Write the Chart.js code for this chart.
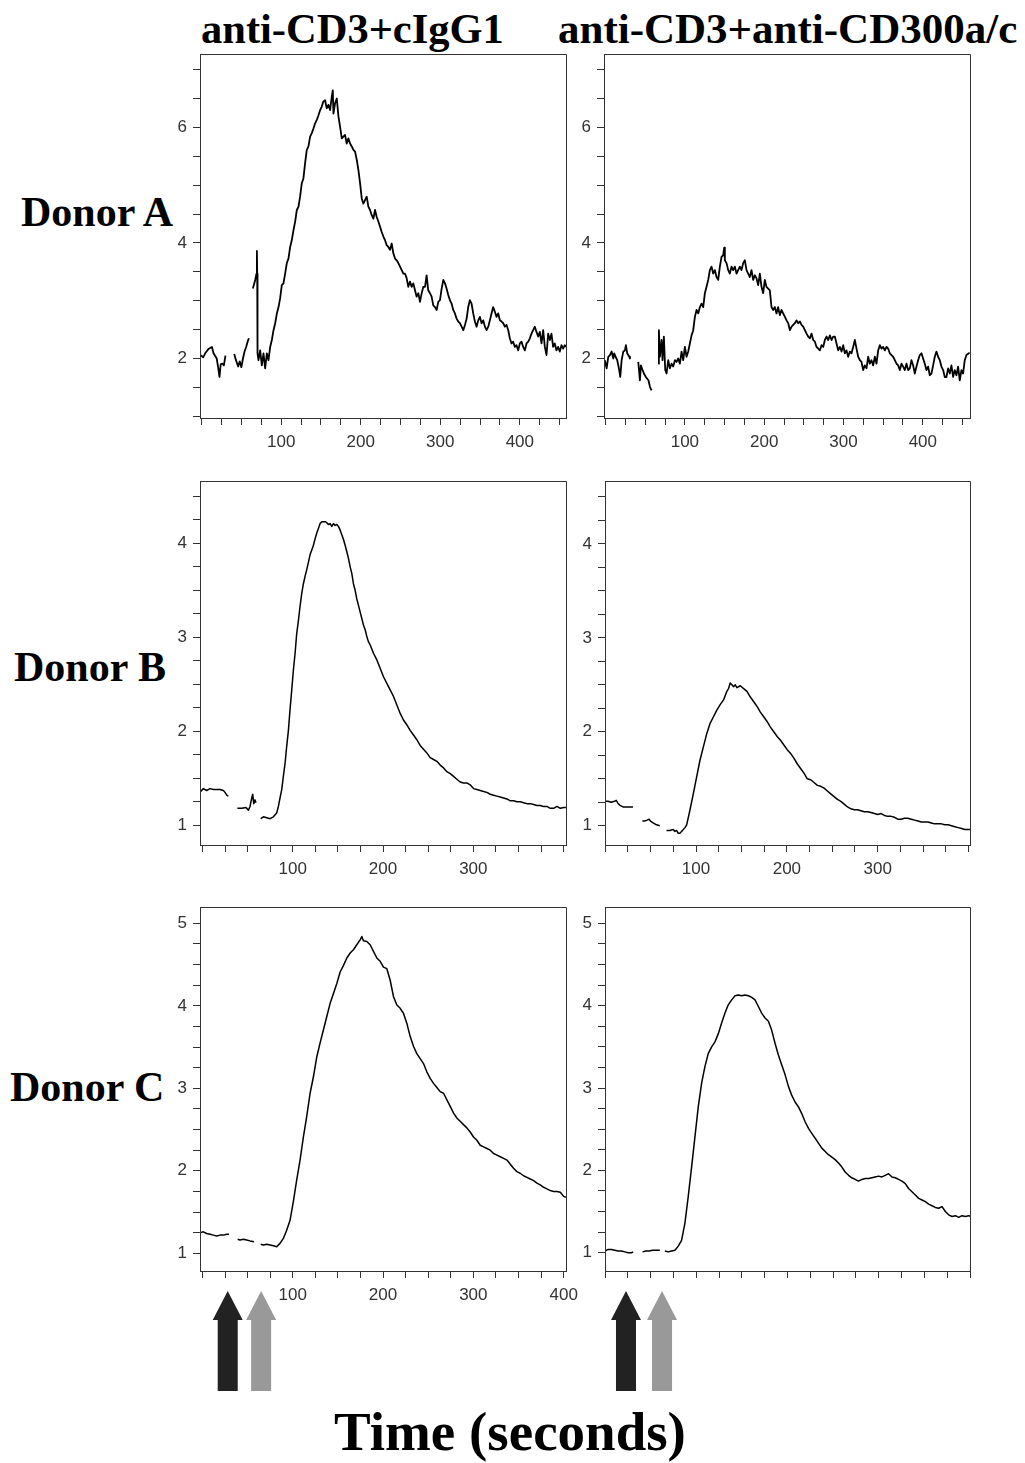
<!DOCTYPE html>
<html><head><meta charset="utf-8"><title>Calcium flux</title>
<script src="https://cdn.jsdelivr.net/npm/chart.js@4.4.1/dist/chart.umd.min.js"></script>
<style>
html,body{margin:0;padding:0;background:#fff;}
body{width:1025px;height:1463px;position:relative;overflow:hidden;}
canvas{position:absolute;}
.lbl{position:absolute;font-family:'Liberation Serif','Times New Roman',serif;font-weight:bold;color:#000;line-height:1;white-space:nowrap;}
</style></head>
<body>
<div class="lbl" style="left:201px;top:8px;font-size:42.5px">anti-CD3+cIgG1</div>
<div class="lbl" style="left:558px;top:7px;font-size:43px">anti-CD3+anti-CD300a/c</div>
<div class="lbl" style="left:21px;top:191px;font-size:42px">Donor A</div>
<div class="lbl" style="left:14px;top:646px;font-size:42px">Donor B</div>
<div class="lbl" style="left:10px;top:1066px;font-size:42px">Donor C</div>
<div class="lbl" style="left:310px;width:400px;text-align:center;top:1404px;font-size:55px">Time (seconds)</div>
<script>
// ---- tick labels ----
const xLabels4 = [100, 200, 300, 400];
const xLabels3 = [100, 200, 300];
const yLabelsA = [2, 4, 6];
const yLabelsB = [1, 2, 3, 4];
const yLabelsC = [1, 2, 3, 4, 5];
// ---- stimulus arrows (time, s) ----
const arrowTimesLeft = [28, 65];
const arrowTimesRight = [22.5, 62];

// ---- traces: [time (s), ratio]; null = gap in acquisition ----
const donorA_cIgG1 = [[-1,2.06],[2,2.02],[5,2.1],[9,2.17],[13,2.2],[15,2.09],[19,2.0],[21,1.83],[22.5,1.68],[24,1.9],[26,1.91],[28,1.88],[30,2.05],[35,null],
[41,2.08],[43,1.98],[46,1.86],[48,1.95],[50,1.85],[52,2.0],[54,2.12],[56,2.2],[58,2.3],[59.5,2.35],[62,null],
[64.4,3.21],[67.4,3.36],[69,3.47],[69.5,3.86],[69.9,3.47],[70.3,2.09],[71.5,1.97],[73.6,2.14],[75.7,1.88],[77.8,2.09],[79.9,1.83],[82,2.09],[84.1,1.97],[86.2,2.2],[88.3,2.32],[90.4,2.49],[92.5,2.61],[94.6,2.78],[96.7,2.89],[98.7,3.04],[100.8,3.27],[102.9,3.3],[105,3.47],[107.1,3.65],[109.2,3.73],[111.3,3.93],[113.4,4.05],[115.5,4.22],[117.6,4.37],[119.7,4.57],[121.8,4.63],[123.8,4.8],[125.9,5.03],[128,5.12],[130.1,5.38],[132.2,5.61],[134.3,5.67],[136.4,5.84],[138.5,5.9],[140.6,5.98],[142.7,6.07],[144.8,6.13],[146.9,6.21],[149,6.3],[151,6.36],[153.1,6.45],[155.2,6.47],[157.3,6.33],[159.4,6.39],[161.5,6.3],[163.6,6.53],[164.9,6.64],[165.7,6.24],[167.8,6.42],[169.9,6.5],[172,6.19],[174.1,6.01],[176.2,5.81],[178.2,5.84],[180.3,5.87],[182.4,5.72],[184.5,5.81],[186.6,5.72],[188.7,5.67],[190.8,5.61],[192.9,5.58],[195,5.44],[197.1,5.26],[199.2,5.03],[201.3,4.77],[203.3,4.68],[205.4,4.74],[207.5,4.8],[209.6,4.63],[211.7,4.57],[213.8,4.48],[215.9,4.42],[218,4.57],[220.1,4.45],[222.2,4.37],[224.3,4.28],[226.4,4.19],[228.5,4.11],[230.5,4.05],[232.6,3.96],[234.7,3.93],[236.8,3.88],[238.9,3.99],[241,3.82],[243.1,3.73],[245.2,3.7],[247.3,3.65],[249.4,3.59],[251.5,3.53],[253.6,3.47],[255.6,3.47],[257.7,3.39],[259.8,3.24],[261.9,3.33],[264,3.24],[266.1,3.3],[268.2,3.18],[270.3,3.07],[272.4,3.13],[274.5,2.98],[276.6,3.13],[278.7,3.24],[280.8,3.24],[282.8,3.44],[284.9,3.18],[287,3.13],[289.1,3.07],[291.2,2.92],[293.3,2.89],[295.4,2.84],[297.5,2.98],[299.6,3.01],[301.7,3.21],[303.8,3.36],[305.9,3.3],[307.9,3.21],[310,3.1],[312.1,3.01],[314.2,2.95],[316.3,2.84],[318.4,2.78],[320.5,2.69],[322.6,2.64],[324.7,2.61],[326.8,2.55],[328.9,2.49],[331,2.58],[333.1,2.69],[335.1,2.89],[337.2,3.01],[339.3,2.95],[341.4,2.78],[343.5,2.64],[345.6,2.55],[347.7,2.66],[349.8,2.72],[351.9,2.61],[354,2.66],[356.1,2.55],[358.2,2.49],[360.3,2.55],[362.3,2.66],[364.4,2.78],[366.5,2.89],[368.6,2.81],[370.7,2.72],[372.8,2.78],[374.9,2.66],[377,2.64],[379.1,2.61],[381.2,2.55],[383.3,2.58],[385.4,2.49],[387.4,2.35],[389.5,2.26],[391.6,2.29],[393.7,2.2],[395.8,2.23],[397.9,2.14],[400,2.26],[402.1,2.29],[404.2,2.2],[406.3,2.14],[408.4,2.26],[410.5,2.29],[412.6,2.35],[414.6,2.43],[416.7,2.49],[418.8,2.55],[420.9,2.46],[423,2.38],[425.1,2.46],[427.2,2.26],[429.3,2.49],[431.4,2.2],[433.5,2.06],[435.6,2.43],[437.7,2.32],[439.7,2.43],[441.8,2.2],[443.9,2.26],[446,2.14],[448.1,2.2],[450.2,2.12],[452.3,2.23],[454.4,2.17],[456.5,2.23],[458,2.2]];

const donorA_CD300 = [[-1,1.97],[1.3,1.83],[3.4,2.03],[5.5,2.06],[7.6,2.12],[9.7,2.0],[10.9,2.09],[12.6,2.03],[14.7,1.97],[16.8,1.83],[18.5,1.68],[20.2,1.97],[22.3,2.12],[24.4,2.14],[25.6,2.23],[27.3,2.09],[29.8,2.03],[30.7,2.0],[36,null],
[41.2,1.94],[43.3,1.62],[44.5,1.88],[46.6,1.8],[48.3,1.74],[50.8,1.68],[52.5,1.65],[54.2,1.62],[55.9,1.51],[58,1.45],[62,null],
[66.4,1.91],[67.2,2.49],[68.5,2.03],[70.6,2.32],[71.8,1.97],[73.5,2.38],[75.2,1.8],[76.9,1.74],[79,1.97],[81.1,1.83],[83.2,1.91],[85.3,1.86],[87.4,1.97],[89.5,1.94],[91.6,2.0],[93.7,1.91],[95.8,2.12],[97.9,1.97],[100,2.2],[102.1,2.03],[104.2,2.12],[106.3,2.26],[108.4,2.4],[110.5,2.49],[112.6,2.72],[114.7,2.84],[116.8,2.78],[118.9,2.89],[121,2.95],[123.1,2.89],[125.2,3.13],[127.3,3.24],[129.4,3.36],[131.5,3.53],[133.6,3.59],[135.7,3.47],[137.8,3.53],[139.9,3.41],[142,3.36],[144.1,3.59],[146.2,3.76],[148.3,3.79],[149.6,3.92],[150.4,3.7],[152.5,3.65],[154.6,3.53],[156.7,3.47],[158.8,3.59],[160.9,3.53],[163,3.59],[165.1,3.47],[167.2,3.53],[169.3,3.59],[171.4,3.53],[173.5,3.65],[175.6,3.7],[177.7,3.53],[179.8,3.47],[181.9,3.41],[184,3.53],[186.1,3.36],[188.2,3.44],[190.3,3.39],[192.4,3.27],[194.5,3.47],[196.6,3.24],[198.7,3.13],[200.8,3.36],[202.9,3.24],[205,3.21],[207.1,3.18],[209.2,2.89],[211.3,2.84],[213.4,2.89],[215.5,2.78],[217.6,2.89],[219.7,2.75],[221.8,2.84],[223.9,2.78],[226.1,2.72],[228.2,2.66],[230.3,2.61],[232.4,2.49],[234.5,2.55],[236.6,2.58],[238.7,2.61],[240.8,2.66],[242.9,2.61],[245,2.64],[247.1,2.58],[249.2,2.55],[251.3,2.49],[253.4,2.43],[255.5,2.38],[257.6,2.35],[259.7,2.43],[261.8,2.32],[263.9,2.29],[266,2.2],[268.1,2.17],[270.2,2.14],[272.3,2.23],[274.4,2.2],[276.5,2.32],[278.6,2.38],[280.7,2.32],[282.8,2.4],[284.9,2.32],[287,2.38],[289.1,2.38],[291.2,2.26],[293.3,2.14],[295.4,2.2],[297.5,2.12],[299.6,2.23],[301.7,2.09],[303.8,2.14],[305.9,2.03],[308,2.12],[310.1,2.09],[312.2,2.2],[314.3,2.32],[316.4,2.17],[318.5,2.03],[320.6,1.97],[322.7,1.94],[324.8,1.8],[326.9,1.88],[329,1.83],[331.1,2.03],[333.2,1.91],[335.3,1.97],[337.4,1.88],[339.5,2.03],[341.6,1.91],[343.7,2.14],[345.8,2.23],[347.9,2.17],[350,2.2],[352.1,2.14],[354.2,2.2],[356.3,2.17],[358.4,2.09],[360.5,2.06],[362.6,2.03],[364.7,1.97],[366.8,1.91],[368.9,1.88],[371,1.8],[373.1,1.91],[375.2,1.86],[377.3,1.8],[379.4,1.91],[381.5,1.8],[383.6,1.83],[385.7,1.97],[387.8,1.88],[389.9,1.74],[392,1.86],[394.1,1.97],[396.2,2.06],[398.3,2.09],[400.4,2.0],[402.5,1.91],[404.6,1.8],[406.7,1.86],[408.8,1.71],[410.9,1.74],[413,1.88],[415.1,2.03],[417.2,2.12],[419.3,2.03],[421.4,1.97],[423.5,1.86],[425.6,1.8],[427.7,1.68],[429.8,1.68],[431.9,1.83],[434,1.74],[436.1,1.88],[438.2,1.68],[440.3,1.8],[442.4,1.71],[444.5,1.86],[446.6,1.62],[448.7,1.8],[450.8,1.74],[452.9,1.97],[455,2.06],[459,2.1]];

const donorB_cIgG1 = [[-2,1.36],[1,1.39],[4.7,1.37],[8.4,1.39],[12.1,1.38],[15.8,1.38],[19.5,1.38],[23.2,1.37],[25,1.35],[26.9,1.32],[28.7,1.31],[34,null],
[38.7,1.18],[43.5,1.18],[48.3,1.19],[50.9,1.16],[52.7,1.2],[54.6,1.29],[55.7,1.33],[56.8,1.23],[58.2,1.27],[59.3,1.24],[62,null],
[64.5,1.07],[67.5,1.09],[71.2,1.08],[74.9,1.07],[78.6,1.09],[82.2,1.13],[84.1,1.2],[85.9,1.29],[87.8,1.38],[89.6,1.52],[91.5,1.66],[93.3,1.84],[95.2,2.01],[97,2.23],[98.9,2.44],[100.7,2.65],[102.6,2.83],[104.4,3.04],[106.3,3.18],[108.1,3.33],[110,3.47],[111.8,3.57],[113.7,3.65],[115.5,3.72],[117.4,3.8],[119.2,3.88],[121.1,3.93],[122.9,3.98],[124.8,4.05],[126.6,4.11],[128.5,4.16],[130.3,4.21],[132.2,4.23],[134,4.23],[135.9,4.23],[137.7,4.22],[139.5,4.2],[141.4,4.21],[143.2,4.18],[145.1,4.21],[146.9,4.19],[148.8,4.2],[150.6,4.18],[152.5,4.14],[154.3,4.09],[156.2,4.04],[158,3.98],[159.9,3.91],[161.7,3.84],[163.6,3.75],[165.4,3.68],[167.2,3.57],[169.1,3.5],[170.9,3.41],[172.8,3.34],[174.6,3.27],[176.5,3.2],[178.3,3.13],[180.2,3.08],[182,3.01],[183.9,2.95],[185.7,2.92],[189.4,2.83],[193.1,2.76],[196.8,2.67],[200.5,2.58],[204.2,2.51],[207.9,2.44],[211.6,2.37],[215.3,2.28],[219,2.19],[222.6,2.12],[226.3,2.07],[230,2.01],[233.7,1.96],[237.4,1.91],[241.1,1.85],[244.8,1.81],[248.5,1.77],[252.2,1.72],[255.9,1.7],[259.6,1.68],[263.3,1.64],[267,1.61],[270.7,1.57],[274.4,1.55],[278.1,1.52],[281.7,1.49],[285.4,1.46],[289.1,1.45],[292.8,1.45],[296.5,1.43],[300.2,1.39],[303.9,1.38],[307.6,1.37],[311.3,1.36],[315,1.35],[318.7,1.33],[322.4,1.32],[326.1,1.31],[329.8,1.3],[333.5,1.29],[337.2,1.28],[340.9,1.26],[344.5,1.26],[348.2,1.25],[351.9,1.25],[355.6,1.24],[359.3,1.23],[363,1.23],[366.7,1.22],[370.4,1.21],[374.1,1.21],[377.8,1.2],[381.5,1.2],[385.2,1.18],[388.9,1.18],[392.6,1.2],[396.3,1.18],[400,1.19],[402.5,1.19]];

const donorB_CD300 = [[-0.7,1.26],[3,1.26],[6.6,1.25],[10.3,1.26],[12.2,1.27],[14,1.24],[15.9,1.22],[19.6,1.2],[23.2,1.2],[26.9,1.2],[30.6,1.2],[35,null],
[41,1.05],[43.5,1.05],[46.1,1.06],[48.3,1.07],[49.8,1.05],[52.8,1.03],[56.5,1.01],[60.1,1.0],[63,null],
[67.5,0.95],[71.2,0.95],[74.9,0.96],[76.8,0.94],[78.6,0.95],[80.4,0.92],[82.3,0.92],[84.1,0.94],[86,0.96],[87.8,0.98],[89.7,1.01],[93.4,1.17],[97,1.34],[100.7,1.52],[104.4,1.7],[108.1,1.84],[111.8,1.98],[115.5,2.09],[119.2,2.16],[122.9,2.23],[126.6,2.29],[130.3,2.34],[133.9,2.43],[135.8,2.46],[137.6,2.52],[139.5,2.5],[141.3,2.48],[143.2,2.5],[145,2.47],[148.7,2.49],[152.4,2.46],[156.1,2.43],[159.8,2.37],[163.5,2.32],[167.2,2.27],[170.8,2.21],[174.5,2.16],[178.2,2.11],[181.9,2.05],[185.6,2.0],[189.3,1.95],[193,1.91],[196.7,1.86],[200.4,1.81],[204.1,1.77],[207.7,1.72],[211.4,1.66],[215.1,1.61],[218.8,1.56],[222.5,1.5],[226.2,1.49],[229.9,1.46],[233.6,1.43],[237.3,1.42],[241,1.4],[244.6,1.37],[248.3,1.34],[252,1.31],[255.7,1.28],[259.4,1.26],[263.1,1.23],[266.8,1.2],[270.5,1.18],[274.2,1.17],[277.9,1.17],[281.5,1.16],[285.2,1.15],[288.9,1.15],[292.6,1.14],[296.3,1.13],[300,1.12],[303.7,1.13],[307.4,1.11],[311.1,1.1],[314.8,1.1],[318.5,1.09],[322.1,1.07],[325.8,1.07],[329.5,1.08],[333.2,1.08],[336.9,1.07],[340.6,1.06],[344.3,1.05],[348,1.04],[351.7,1.04],[355.4,1.04],[359,1.03],[362.7,1.02],[366.4,1.02],[370.1,1.02],[373.8,1.01],[377.5,1.01],[381.2,1.0],[384.9,0.99],[388.6,0.98],[392.3,0.97],[395.9,0.96],[401.5,0.96]];

const donorC_cIgG1 = [[-2,1.25],[1,1.26],[4.7,1.24],[8.4,1.23],[12.1,1.22],[15.8,1.21],[19.5,1.22],[23.2,1.22],[26.9,1.23],[29.4,1.23],[34,null],
[39,1.17],[41.6,1.16],[45.3,1.17],[49,1.16],[52.7,1.15],[57.1,1.14],[61,null],
[64.5,1.11],[67.5,1.1],[71.2,1.11],[74.9,1.1],[78.6,1.09],[82.2,1.08],[85.9,1.12],[89.6,1.18],[93.3,1.28],[97,1.4],[100.7,1.63],[104.4,1.89],[108.1,2.13],[111.8,2.41],[115.5,2.66],[119.2,2.94],[122.9,3.14],[126.6,3.38],[130.3,3.55],[134,3.71],[137.7,3.87],[141.4,4.03],[145.1,4.15],[148.8,4.27],[152.5,4.41],[156.2,4.49],[159.9,4.58],[163.6,4.64],[167.2,4.68],[170.9,4.74],[174.6,4.8],[176.5,4.84],[178.3,4.79],[182,4.78],[185.7,4.74],[189.4,4.66],[193.1,4.58],[196.8,4.54],[200.5,4.47],[204.2,4.45],[207.9,4.31],[211.6,4.11],[215.3,4.01],[219,3.97],[222.6,3.91],[226.3,3.79],[230,3.63],[233.7,3.51],[237.4,3.42],[241.1,3.36],[244.8,3.3],[248.5,3.2],[252.2,3.12],[255.9,3.06],[259.6,3.01],[263.3,2.96],[267,2.94],[270.7,2.86],[274.4,2.78],[278.1,2.7],[281.7,2.64],[285.4,2.6],[289.1,2.56],[292.8,2.52],[296.5,2.47],[300.2,2.41],[303.9,2.37],[307.6,2.31],[311.3,2.29],[315,2.27],[318.7,2.25],[322.4,2.21],[326.1,2.19],[329.8,2.17],[333.5,2.15],[337.2,2.13],[340.9,2.08],[344.5,2.03],[348.2,1.99],[351.9,1.97],[355.6,1.94],[359.3,1.92],[363,1.9],[366.7,1.88],[370.4,1.85],[374.1,1.83],[377.8,1.8],[381.5,1.78],[385.2,1.76],[388.9,1.75],[392.6,1.75],[396.3,1.74],[400,1.69],[402.5,1.68]];

const donorC_CD300 = [[-0.7,1.02],[2.9,1.04],[6.6,1.04],[10.2,1.03],[13.9,1.02],[17.6,1.02],[21.2,1.01],[24.9,1.0],[28.5,1.0],[30.4,1.01],[35,null],
[40.6,1.01],[44.3,1.02],[47.9,1.02],[51.6,1.03],[56,1.03],[59.6,1.03],[62,null],
[65.1,1.02],[68.8,1.01],[72.4,1.02],[76.1,1.03],[79.8,1.08],[83.4,1.15],[87.1,1.36],[90.7,1.68],[94.4,2.04],[98.1,2.41],[101.7,2.77],[105.4,3.06],[109,3.26],[112.7,3.42],[116.4,3.5],[120,3.56],[123.7,3.66],[127.3,3.79],[131,3.91],[134.6,4.01],[138.3,4.07],[142,4.12],[145.6,4.13],[149.3,4.12],[152.9,4.13],[156.6,4.12],[160.3,4.1],[163.9,4.07],[167.6,3.99],[171.2,3.91],[174.9,3.85],[178.6,3.81],[182.2,3.7],[185.9,3.54],[189.5,3.4],[193.2,3.28],[196.9,3.16],[200.5,3.02],[204.2,2.91],[207.8,2.83],[211.5,2.77],[215.1,2.69],[218.8,2.59],[222.5,2.51],[226.1,2.45],[229.8,2.39],[233.4,2.33],[237.1,2.27],[240.8,2.23],[244.4,2.19],[248.1,2.16],[251.7,2.13],[255.4,2.09],[259.1,2.04],[262.7,1.98],[266.4,1.94],[270,1.91],[273.7,1.89],[277.3,1.87],[281,1.89],[284.7,1.9],[288.3,1.9],[292,1.91],[295.6,1.92],[299.3,1.93],[303,1.92],[306.6,1.94],[310.3,1.96],[313.9,1.92],[317.6,1.91],[321.3,1.89],[324.9,1.87],[328.6,1.84],[332.2,1.78],[335.9,1.74],[339.6,1.7],[343.2,1.66],[346.9,1.64],[350.5,1.62],[354.2,1.59],[357.8,1.57],[361.5,1.55],[365.2,1.54],[368.8,1.56],[372.5,1.5],[376.1,1.46],[379.8,1.44],[383.5,1.45],[387.1,1.43],[390.8,1.45],[394.4,1.44],[398.1,1.45],[400,1.44]];

// ---- layout (frame position in page pixels, axis ranges) ----
const panels = [
  {data: donorA_cIgG1, frame:{l:200,t:54,w:366,h:364}, x:[-2,458], y:[0.97,7.27], yStep:0.5, yLabels:yLabelsA, xLabels:xLabels4, lw:1.8},
  {data: donorA_CD300, frame:{l:604,t:54,w:366,h:364}, x:[-2,459.5], y:[0.97,7.27], yStep:0.5, yLabels:yLabelsA, xLabels:xLabels4, lw:1.8},
  {data: donorB_cIgG1, frame:{l:200,t:481,w:366,h:364}, x:[-2.7,402.6], y:[0.79,4.663], yStep:0.25, yLabels:yLabelsB, xLabels:xLabels3, lw:1.5},
  {data: donorB_CD300, frame:{l:605,t:481,w:365,h:364}, x:[-0.2,401.6], y:[0.795,4.67], yStep:0.25, yLabels:yLabelsB, xLabels:xLabels3, lw:1.5},
  {data: donorC_cIgG1, frame:{l:200,t:907,w:366,h:364}, x:[-2.7,402.6], y:[0.785,5.198], yStep:0.25, yLabels:yLabelsC, xLabels:xLabels4, lw:1.5, arrows:arrowTimesLeft},
  {data: donorC_CD300, frame:{l:605,t:907,w:365,h:364}, x:[-0.5,399.5], y:[0.778,5.198], yStep:0.25, yLabels:yLabelsC, xLabels:xLabels3, lw:1.5, arrows:arrowTimesRight}
];

const AXIS = '#333';
const TICKFONT = {family:"'Liberation Sans', Arial, sans-serif", size:17};
function align(p){ return Math.round(p - 0.5) + 0.5; }

const framePlugin = {
  id:'frame',
  afterDraw(chart){
    const {ctx, chartArea:a} = chart;
    ctx.save();
    ctx.strokeStyle = AXIS; ctx.lineWidth = 1;
    const l = align(a.left), r = align(a.right), t = align(a.top), b = align(a.bottom);
    ctx.beginPath();
    ctx.moveTo(l, t); ctx.lineTo(r, t); ctx.lineTo(r, b); ctx.lineTo(l, b); ctx.closePath();
    ctx.stroke();
    ctx.restore();
  }
};

const arrowPlugin = {
  id:'arrows',
  afterDraw(chart, args, opts){
    if(!opts.times) return;
    const {ctx, chartArea:a, scales} = chart;
    const colors = ['#222222', '#999999'];
    const tipY = a.bottom + 20, headY = tipY + 29, baseY = tipY + 100;
    opts.times.forEach((t, i) => {
      const cx = scales.x.getPixelForValue(t);
      ctx.save();
      ctx.fillStyle = colors[i % colors.length];
      ctx.beginPath();
      ctx.moveTo(cx, tipY);
      ctx.lineTo(cx + 15, headY);
      ctx.lineTo(cx + 10, headY);
      ctx.lineTo(cx + 10, baseY);
      ctx.lineTo(cx - 10, baseY);
      ctx.lineTo(cx - 10, headY);
      ctx.lineTo(cx - 15, headY);
      ctx.closePath();
      ctx.fill();
      ctx.restore();
    });
  }
};

panels.forEach(p => {
  const padTop = 20, padRight = 30, yW = 60, xH = 42, padBottom = p.arrows ? 92 : 0;
  const W = yW + p.frame.w + padRight, H = padTop + p.frame.h + xH + padBottom;
  const c = document.createElement('canvas');
  c.width = W; c.height = H;
  c.style.width = W + 'px'; c.style.height = H + 'px';
  c.style.left = (p.frame.l - yW) + 'px';
  c.style.top = (p.frame.t - padTop) + 'px';
  document.body.appendChild(c);
  new Chart(c, {
    type:'line',
    data:{datasets:[{
      data: p.data.map(([x, y]) => ({x, y})),
      borderColor:'#000', borderWidth:p.lw, pointRadius:0, tension:0, spanGaps:false, fill:false,
      borderJoinStyle:'round'
    }]},
    options:{
      responsive:false, animation:false, events:[], devicePixelRatio:1,
      layout:{padding:{top:padTop, right:padRight, left:0, bottom:padBottom}},
      plugins:{legend:{display:false}, tooltip:{enabled:false}, arrows:{times:p.arrows || null}},
      scales:{
        x:{
          type:'linear', min:p.x[0], max:p.x[1],
          border:{display:true, color:AXIS, width:1},
          grid:{drawOnChartArea:false, drawTicks:true, tickLength:7, color:AXIS, tickColor:AXIS},
          ticks:{stepSize:25, includeBounds:false, autoSkip:false, maxRotation:0, padding:7,
            color:AXIS, font:TICKFONT,
            callback:v => p.xLabels.includes(v) ? String(v) : ''},
          afterFit:s => { s.height = xH; }
        },
        y:{
          type:'linear', min:p.y[0], max:p.y[1],
          border:{display:true, color:AXIS, width:1},
          grid:{drawOnChartArea:false, drawTicks:true, tickLength:7, color:AXIS, tickColor:AXIS},
          ticks:{stepSize:p.yStep, includeBounds:false, autoSkip:false, padding:6,
            color:AXIS, font:TICKFONT,
            callback:v => p.yLabels.includes(v) ? String(v) : ''},
          afterFit:s => { s.width = yW; }
        }
      }
    },
    plugins:[framePlugin, arrowPlugin]
  });
});
</script>
</body></html>
